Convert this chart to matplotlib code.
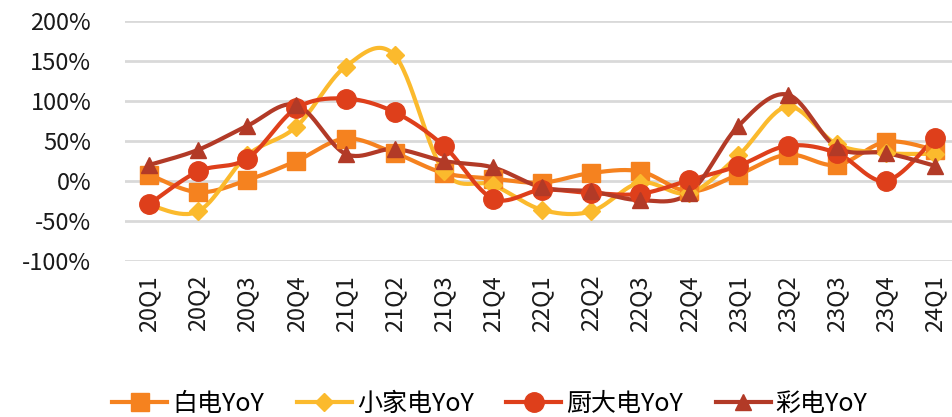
import matplotlib.pyplot as plt
import numpy as np
from matplotlib.lines import Line2D

plt.rcParams['font.family'] = ['Noto Sans CJK SC', 'DejaVu Sans']

quarters = ['20Q1', '20Q2', '20Q3', '20Q4', '21Q1', '21Q2', '21Q3', '21Q4',
            '22Q1', '22Q2', '22Q3', '22Q4', '23Q1', '23Q2', '23Q3', '23Q4', '24Q1']
white_yoy = [8, -14, 1, 25, 53, 35, 10, 3, -2, 10, 12, -13, 8, 33, 20, 49, 39]
small_yoy = [-30, -38, 32, 68, 143, 157, 12, -5, -36, -38, -2, -15, 32, 93, 46, 35, 34]
kitchen_yoy = [-29, 12, 28, 91, 103, 86, 44, -22, -11, -15, -16, 1, 19, 44, 35, 0, 54]
tv_yoy = [20, 39, 69, 95, 34, 40, 25, 17, -8, -13, -24, -15, 69, 108, 42, 35, 19]

names = ['白电YoY', '小家电YoY', '厨大电YoY', '彩电YoY']
colors = ['#F5821F', '#FBBA2D', '#DE3F1B', '#B23A27']
markers = ['s', 'D', 'o', '^']
msizes = [13, 9, 14, 12]


def smooth(x, y, n=30):
    # Bezier segments with Catmull-Rom style control points (like Excel smoothing)
    x = np.asarray(x, float)
    y = np.asarray(y, float)
    px = np.concatenate([[x[0]], x, [x[-1]]])
    py = np.concatenate([[y[0]], y, [y[-1]]])
    xs, ys = [], []
    t = np.linspace(0, 1, n)
    for i in range(len(x) - 1):
        p0 = np.array([px[i + 1], py[i + 1]])
        p3 = np.array([px[i + 2], py[i + 2]])
        c1 = p0 + (np.array([px[i + 2], py[i + 2]]) - np.array([px[i], py[i]])) / 6
        c2 = p3 - (np.array([px[i + 3], py[i + 3]]) - np.array([px[i + 1], py[i + 1]])) / 6
        b = ((1 - t) ** 3)[:, None] * p0 + (3 * (1 - t) ** 2 * t)[:, None] * c1 \
            + (3 * (1 - t) * t ** 2)[:, None] * c2 + (t ** 3)[:, None] * p3
        xs.append(b[:, 0])
        ys.append(b[:, 1])
    return np.concatenate(xs), np.concatenate(ys)


fig = plt.figure(figsize=(9.52, 4.17), dpi=100)
ax = fig.add_axes([124.5 / 952, 156 / 417, 835 / 952, 240 / 417])

xpos = np.arange(len(quarters))
series = [white_yoy, small_yoy, kitchen_yoy, tv_yoy]
handles = []
for vals, name, c, m, ms in zip(series, names, colors, markers, msizes):
    sx, sy = smooth(xpos, vals)
    ax.plot(sx, sy, color=c, lw=3, solid_capstyle='round', zorder=3)
    ax.plot(xpos, vals, ls='none', marker=m, ms=ms, color=c, mec=c, zorder=4)
    handles.append(Line2D([], [], color=c, lw=3, marker=m, ms=ms, mec=c))

ax.set_xlim(-0.5, len(quarters) - 0.5)
ax.set_ylim(-100, 200)
ax.set_yticks(np.arange(-100, 201, 50))
ax.set_yticklabels([f'{v}%' for v in range(-100, 201, 50)], fontsize=17, color='#1a1a1a')
ax.set_xticks(xpos)
ax.set_xticklabels(quarters, rotation=90, fontsize=17, color='#1a1a1a', va='top')
ax.tick_params(length=0, pad=10)
ax.tick_params(axis='y', pad=24)
ax.grid(axis='y', color='#D9D9D9', lw=2)
ax.set_axisbelow(True)
for s in ax.spines.values():
    s.set_visible(False)

fig.legend(handles, names, loc='center', bbox_to_anchor=(490 / 952, 13 / 417),
           ncol=4, frameon=False, fontsize=18, handlelength=2.2, handletextpad=0.2,
           columnspacing=1.3, borderpad=0)

fig.savefig('out.png', dpi=100)
